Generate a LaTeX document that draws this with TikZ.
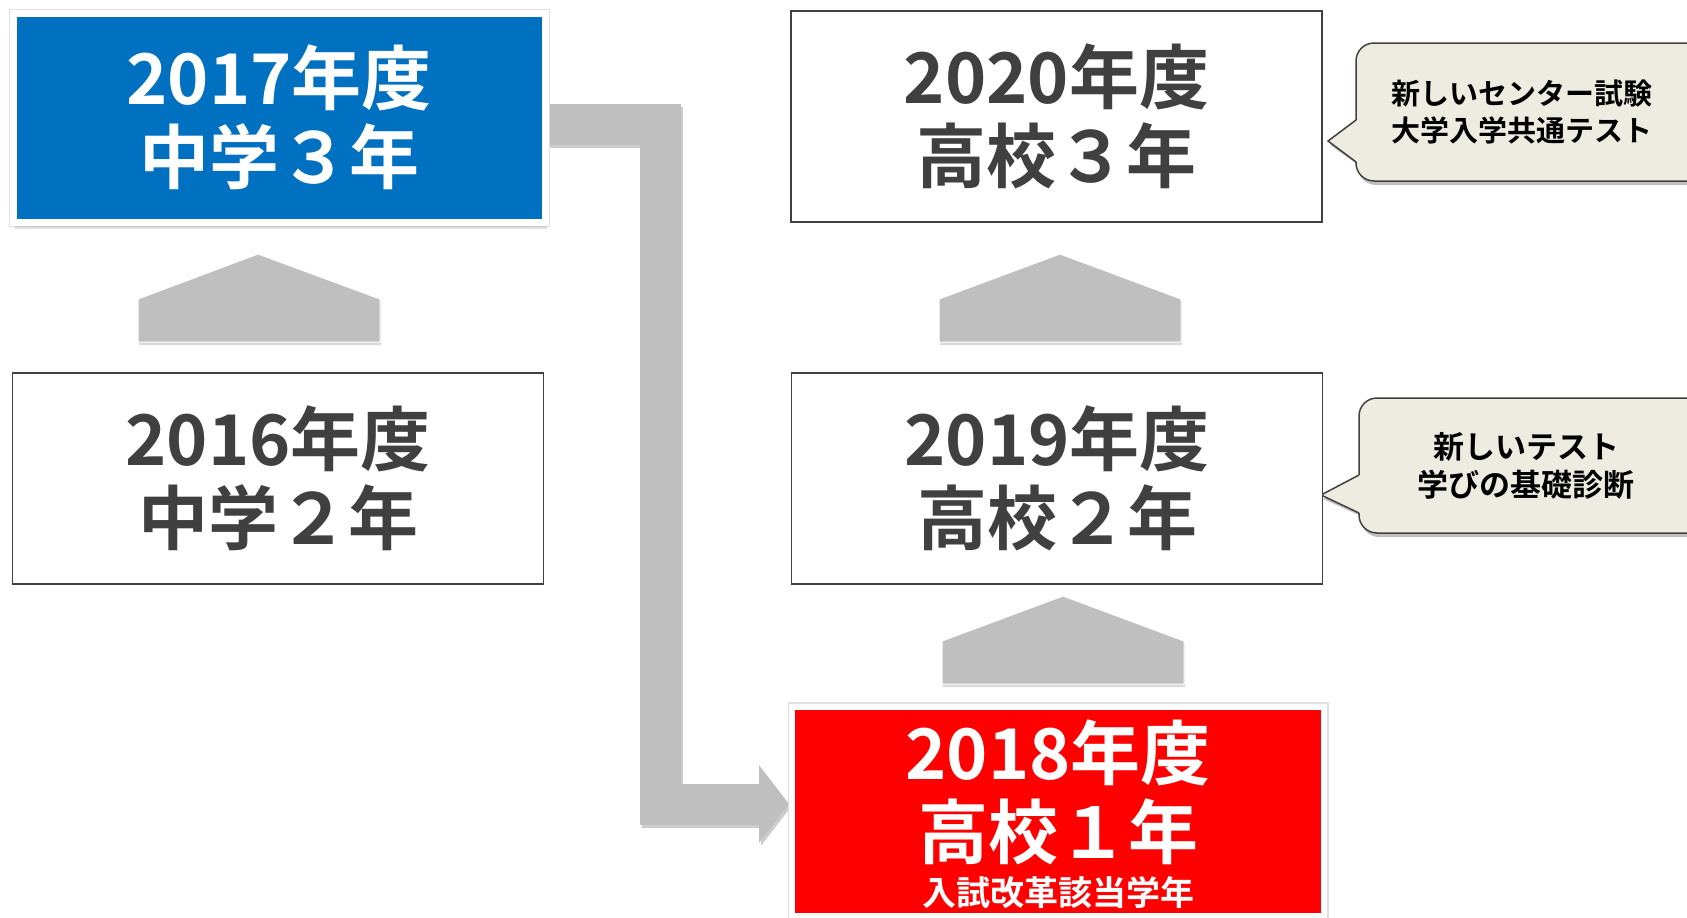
\documentclass[tikz,border=0pt]{standalone}
\usepackage{fontspec}
\setmainfont{Noto Sans CJK JP}[BoldFont={Noto Sans CJK JP Bold}]
\usetikzlibrary{shadows,arrows.meta,backgrounds}
\definecolor{dkgray}{HTML}{404040}
\definecolor{blu}{HTML}{0070C0}
\definecolor{arrowgray}{HTML}{BFBFBF}
\definecolor{callfill}{HTML}{EEECE1}
\newcommand{\bigtxt}{\fontsize{70}{79}\selectfont\bfseries}
\begin{document}
\begin{tikzpicture}[x=1pt,y=-1pt,
  yearbox/.style={draw=dkgray, line width=1.5pt, fill=white, minimum width=531pt, minimum height=211pt,
    inner sep=0pt, align=center, text=dkgray, font=\bigtxt},
  hotbox/.style={draw=white, line width=7pt, minimum width=532pt, minimum height=209pt,
    inner sep=0pt, align=center, text=white, font=\bigtxt,
    preaction={draw=black!12, line width=9pt},
    drop shadow={opacity=0.25, shadow xshift=1.5pt, shadow yshift=-7pt}},
  uparrow/.style={fill=arrowgray, draw=white, line width=1pt,
    drop shadow={opacity=0.3, shadow xshift=1pt, shadow yshift=-3pt}},
  callout/.style={fill=callfill, draw=dkgray, line width=1.5pt},
  calloutshadow/.style={fill=black, opacity=0.25, draw=none},
  calltext/.style={align=center, inner sep=0pt, text=black, font=\fontsize{29}{37}\selectfont\bfseries},
  fatarrow/.style={draw=arrowgray, line width=41pt, -{Triangle[length=30pt 0 0, width=76pt 0 0]}}
]
\useasboundingbox (0,0) rectangle (1687,918);

% callout shadows
\begin{scope}[shift={(2,4)}]
  \path[calloutshadow, rounded corners=18pt] (1356,43) rectangle (1710,181);
  \path[calloutshadow] (1358,120) -- (1328,141) -- (1358,162) -- cycle;
  \path[calloutshadow, rounded corners=18pt] (1359,398) rectangle (1710,533);
  \path[calloutshadow] (1361,475) -- (1321,495) -- (1361,513) -- cycle;
\end{scope}
% callout bodies
\path[callout, rounded corners=18pt] (1356,43) rectangle (1710,181);
\path[fill=callfill] (1358.5,119) -- (1328,141) -- (1358.5,163) -- cycle;
\draw[dkgray, line width=1.5pt, line join=miter] (1356,120) -- (1328,141) -- (1356,162);
\path[callout, rounded corners=18pt] (1359,398) rectangle (1710,533);
\path[fill=callfill] (1361.5,474) -- (1321,495) -- (1361.5,514) -- cycle;
\draw[dkgray, line width=1.5pt, line join=miter] (1359,475) -- (1321,495) -- (1359,513);

\node[calltext] (c1) at (1522,112) {新しいセンター試験\\大学入学共通テスト};
\node[calltext, font=\fontsize{31}{38}\selectfont\bfseries] (c2) at (1526,466) {新しいテスト\\学びの基礎診断};

% boxes
\node[hotbox, fill=blu] (y2017) at (279,117.5) {2017年度\\中学３年};
\node[yearbox] (y2016) at (278,478.5) {2016年度\\中学２年};
\node[yearbox] (y2020) at (1056.5,116.5) {2020年度\\高校３年};
\node[yearbox] (y2019) at (1057,478.5) {2019年度\\高校２年};
\node[hotbox, fill=red, line width=6pt, preaction={draw=black!12, line width=8pt}] (y2018) at (1058,811) {};
\node[align=center, inner sep=0pt, text=white, font=\bigtxt] (t2018) at (1058,792.5) {2018年度\\高校１年};
\node[inner sep=0pt, text=white, font=\fontsize{34}{40}\selectfont\bfseries] (sub) at (1058,893) {入試改革該当学年};

% up arrows
\draw[uparrow] (138,342) -- (138,299) -- (258,254) -- (380,299) -- (380,342) -- cycle;
\draw[uparrow] (939,342) -- (939,299) -- (1060,254) -- (1181,299) -- (1181,342) -- cycle;
\draw[uparrow] (942,684) -- (942,641) -- (1063,596) -- (1184,641) -- (1184,684) -- cycle;

% L-shaped fat arrow
\begin{scope}[on background layer]
  \draw[fatarrow, draw=black, opacity=0.2, transform canvas={xshift=2pt, yshift=-3pt}]
    ([xshift=-10pt]y2017.east |- 0,124) -| (660,804) -- (y2018.west |- 0,804);
  \draw[fatarrow] ([xshift=-10pt]y2017.east |- 0,124) -| (660,804) -- (y2018.west |- 0,804);
\end{scope}
\end{tikzpicture}
\end{document}
